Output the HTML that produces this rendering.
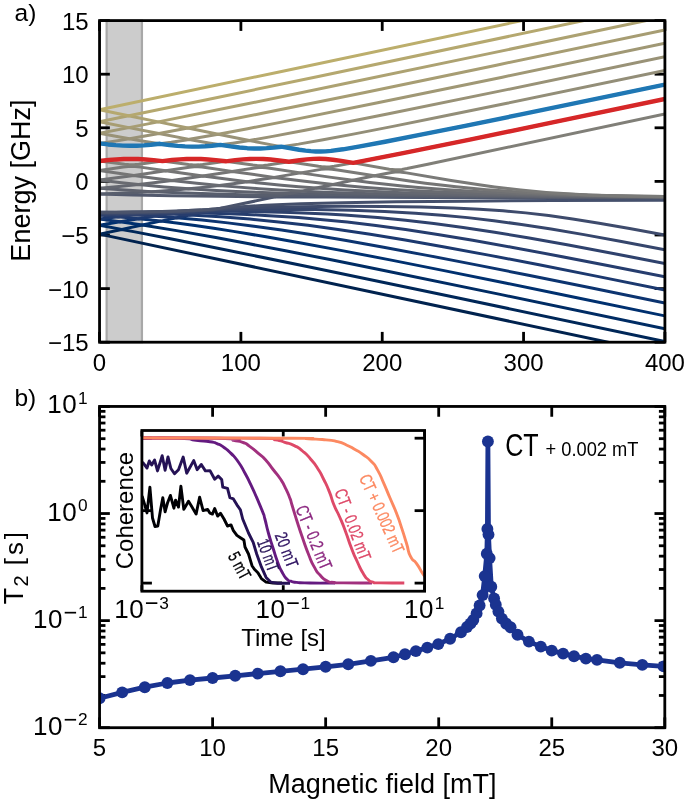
<!DOCTYPE html>
<html><head><meta charset="utf-8"><style>
html,body{margin:0;padding:0;background:#fff;}
svg{display:block;will-change:transform;}
text{font-family:"Liberation Sans",sans-serif;fill:#000;}
</style></head><body>
<svg width="685" height="803" viewBox="0 0 685 803">
<rect width="685" height="803" fill="#fff"/>
<defs>
<clipPath id="ca"><rect x="99.55" y="20.6" width="565.35" height="321.6"/></clipPath>
<clipPath id="cb"><rect x="99.55" y="406.45" width="565.25" height="321.25"/></clipPath>
<clipPath id="ci"><rect x="141.9" y="430.5" width="282.7" height="160.7"/></clipPath>
</defs>
<rect x="106.62" y="20.6" width="35.33" height="321.6" fill="#cccccc" stroke="#a8a8a8" stroke-width="2.2"/>
<line x1="99.55" y1="342.2" x2="99.55" y2="331.9" stroke="#000" stroke-width="2.8" />
<line x1="99.55" y1="20.6" x2="99.55" y2="30.9" stroke="#000" stroke-width="2.8" />
<line x1="240.89" y1="342.2" x2="240.89" y2="331.9" stroke="#000" stroke-width="2.8" />
<line x1="240.89" y1="20.6" x2="240.89" y2="30.9" stroke="#000" stroke-width="2.8" />
<line x1="382.23" y1="342.2" x2="382.23" y2="331.9" stroke="#000" stroke-width="2.8" />
<line x1="382.23" y1="20.6" x2="382.23" y2="30.9" stroke="#000" stroke-width="2.8" />
<line x1="523.56" y1="342.2" x2="523.56" y2="331.9" stroke="#000" stroke-width="2.8" />
<line x1="523.56" y1="20.6" x2="523.56" y2="30.9" stroke="#000" stroke-width="2.8" />
<line x1="664.9" y1="342.2" x2="664.9" y2="331.9" stroke="#000" stroke-width="2.8" />
<line x1="664.9" y1="20.6" x2="664.9" y2="30.9" stroke="#000" stroke-width="2.8" />
<line x1="99.55" y1="20.6" x2="109.85" y2="20.6" stroke="#000" stroke-width="2.8" />
<line x1="664.9" y1="20.6" x2="654.6" y2="20.6" stroke="#000" stroke-width="2.8" />
<line x1="99.55" y1="74.2" x2="109.85" y2="74.2" stroke="#000" stroke-width="2.8" />
<line x1="664.9" y1="74.2" x2="654.6" y2="74.2" stroke="#000" stroke-width="2.8" />
<line x1="99.55" y1="127.8" x2="109.85" y2="127.8" stroke="#000" stroke-width="2.8" />
<line x1="664.9" y1="127.8" x2="654.6" y2="127.8" stroke="#000" stroke-width="2.8" />
<line x1="99.55" y1="181.4" x2="109.85" y2="181.4" stroke="#000" stroke-width="2.8" />
<line x1="664.9" y1="181.4" x2="654.6" y2="181.4" stroke="#000" stroke-width="2.8" />
<line x1="99.55" y1="235" x2="109.85" y2="235" stroke="#000" stroke-width="2.8" />
<line x1="664.9" y1="235" x2="654.6" y2="235" stroke="#000" stroke-width="2.8" />
<line x1="99.55" y1="288.6" x2="109.85" y2="288.6" stroke="#000" stroke-width="2.8" />
<line x1="664.9" y1="288.6" x2="654.6" y2="288.6" stroke="#000" stroke-width="2.8" />
<line x1="99.55" y1="342.2" x2="109.85" y2="342.2" stroke="#000" stroke-width="2.8" />
<line x1="664.9" y1="342.2" x2="654.6" y2="342.2" stroke="#000" stroke-width="2.8" />
<g clip-path="url(#ca)">
<path d="M99.55 234.11 L635.93 348.14" fill="none" stroke="#00224e" stroke-width="3.0" stroke-linejoin="round" stroke-linecap="butt" />
<path d="M99.55 234.11 L121.81 229.41 L134.88 231.87 L169.16 238.5 L209.09 246.45 L311.91 267.47 L457.13 297.77 L664.9 341.54" fill="none" stroke="#002758" stroke-width="3.0" stroke-linejoin="round" stroke-linecap="butt" />
<path d="M99.55 225.33 L121.81 229.38 L142.3 225.03 L176.58 230.61 L215.8 237.56 L249.01 243.76 L286.82 251.06 L329.93 259.58 L379.04 269.48 L501.3 294.6 L664.9 328.75" fill="none" stroke="#002c64" stroke-width="3.0" stroke-linejoin="round" stroke-linecap="butt" />
<path d="M99.55 225.33 L120.04 221.74 L142.3 225.02 L160.68 221.12 L176.58 223.07 L194.95 225.56 L213.68 228.29 L233.47 231.37 L265.97 236.79 L302.37 243.25 L343.36 250.89 L390 259.9 L444.06 270.62 L506.6 283.27 L579.39 298.19 L664.9 315.9" fill="none" stroke="#00306f" stroke-width="3.0" stroke-linejoin="round" stroke-linecap="butt" />
<path d="M99.55 218.95 L120.04 221.71 L138.77 218.65 L160.68 221.1 L176.58 217.75 L202.02 220.08 L227.81 222.88 L253.96 226.17 L281.52 230.07 L312.26 234.85 L346.18 240.56 L383.64 247.24 L425.69 255.1 L473.74 264.39 L528.51 275.24 L591.76 288.02 L664.9 302.99" fill="none" stroke="#0c3470" stroke-width="3.0" stroke-linejoin="round" stroke-linecap="butt" />
<path d="M99.55 218.95 L118.28 216.69 L138.77 218.65 L155.38 216.13 L176.58 217.74 L189.65 215.02 L220.39 216.84 L249.72 219.12 L278.7 221.94 L308.02 225.35 L338.06 229.39 L370.21 234.24 L405.19 240 L444.41 246.91 L488.58 255.1 L539.11 264.83 L597.41 276.36 L664.9 289.99" fill="none" stroke="#1c396f" stroke-width="3.0" stroke-linejoin="round" stroke-linecap="butt" />
<path d="M99.55 215.13 L118.28 216.68 L135.24 214.88 L155.02 216.11 L169.51 214.1 L189.3 215 L199.55 212.87 L210.5 213.15 L229.23 213.75 L247.25 214.49 L264.91 215.38 L281.88 216.4 L298.48 217.57 L314.74 218.9 L330.99 220.4 L347.24 222.08 L375.86 225.48 L405.55 229.54 L437.7 234.45 L472.68 240.28 L511.55 247.18 L555.72 255.42 L606.24 265.19 L664.9 276.84" fill="none" stroke="#263d6e" stroke-width="3.0" stroke-linejoin="round" stroke-linecap="butt" />
<path d="M99.55 215.13 L116.86 213.92 L135.24 214.86 L150.78 213.44 L169.51 214.08 L181.53 212.53 L199.55 212.86 L207.32 211.24 L230.29 211.35 L270.92 212.01 L290.36 212.55 L309.08 213.25 L327.1 214.1 L344.42 215.09 L361.02 216.22 L377.63 217.54 L405.55 220.21 L433.81 223.48 L463.14 227.45 L494.59 232.23 L529.22 238 L568.44 245 L613.31 253.42 L664.9 263.46" fill="none" stroke="#2f426d" stroke-width="3.0" stroke-linejoin="round" stroke-linecap="butt" />
<path d="M99.55 213.17 L116.86 213.89 L133.12 212.95 L150.78 213.41 L164.57 212.29 L181.53 212.5 L192.13 211.27 L206.97 211.24 L213.33 210.01 L244.07 209.54 L276.22 209.38 L315.09 209.62 L351.48 210.33 L384.7 211.51 L415.44 213.17 L441.94 215.15 L467.73 217.62 L493.88 220.68 L521.44 224.46 L551.12 229.06 L583.98 234.63 L621.44 241.42 L664.9 249.69" fill="none" stroke="#36466c" stroke-width="3.0" stroke-linejoin="round" stroke-linecap="butt" />
<path d="M99.55 213.17 L114.39 212.73 L133.12 212.94 L148.31 212.29 L164.57 212.29 L177.29 211.48 L192.13 211.26 L201.31 210.38 L212.97 210.01 L217.92 209.13 L227.11 208.65 L261.38 207.52 L299.19 206.74 L341.59 206.35 L383.29 206.43 L420.74 206.95 L453.6 207.92 L479.39 209.15 L503.07 210.79 L525.68 212.88 L548.65 215.57 L572.68 218.93 L599.18 223.15 L629.57 228.48 L664.9 235.09" fill="none" stroke="#3e4b6c" stroke-width="3.0" stroke-linejoin="round" stroke-linecap="butt" />
<path d="M99.55 212.28 L115.8 212.4 L131.7 212.08 L146.19 212.01 L162.09 211.49 L177.29 211.18 L188.24 210.58 L200.96 210.12 L208.38 209.47 L216.51 209.03 L220.75 208.34 L233.82 207.29 L249.01 206.25 L265.27 205.32 L300.6 203.85 L342.65 202.72 L396.36 201.82 L464.55 201.13 L551.83 200.61 L664.9 200.21" fill="none" stroke="#45506c" stroke-width="3.0" stroke-linejoin="round" stroke-linecap="butt" />
<path d="M99.55 212.28 L131.7 212.08 L162.09 211.48 L188.24 210.58 L208.38 209.47 L220.75 208.32 L275.16 196.81 L430.28 197.54 L664.9 198.02" fill="none" stroke="#4b546c" stroke-width="3.0" stroke-linejoin="round" stroke-linecap="butt" />
<path d="M99.55 194.05 L132.76 194.97 L171.99 195.72 L218.63 196.32 L274.81 196.81 L281.88 195.41 L347.95 196.25 L430.28 196.9 L533.46 197.39 L664.9 197.78" fill="none" stroke="#52596d" stroke-width="3.0" stroke-linejoin="round" stroke-linecap="butt" />
<path d="M99.55 194.05 L126.76 192.99 L152.2 191.65 L179.41 192.84 L209.44 193.84 L243.01 194.68 L281.52 195.4 L290.71 193.55 L320.74 194.34 L354.31 195.02 L433.46 196.12 L534.16 196.93 L664.9 197.52" fill="none" stroke="#585e6d" stroke-width="3.0" stroke-linejoin="round" stroke-linecap="butt" />
<path d="M99.55 188.26 L124.99 190.1 L151.84 191.63 L169.16 190.46 L188.95 188.81 L211.91 190.27 L235.94 191.51 L262.09 192.6 L290.36 193.54 L302.02 191.13 L331.34 192.4 L363.5 193.48 L399.19 194.4 L439.47 195.19 L484.69 195.84 L536.64 196.4 L664.9 197.25" fill="none" stroke="#5e626e" stroke-width="3.0" stroke-linejoin="round" stroke-linecap="butt" />
<path d="M99.55 188.26 L118.98 186.55 L138.42 184.55 L164.21 186.91 L188.59 188.79 L202.73 187.38 L219.33 185.46 L238.77 187.13 L258.91 188.63 L279.76 189.95 L301.66 191.11 L316.15 188.09 L344.77 189.97 L375.16 191.55 L408.37 192.89 L445.47 194.02 L483.99 194.89 L527.1 195.63 L581.51 196.3 L645.82 196.86 L664.9 197.23" fill="none" stroke="#646770" stroke-width="3.0" stroke-linejoin="round" stroke-linecap="butt" />
<path d="M99.55 180.09 L119.34 182.46 L138.42 184.52 L153.61 182.8 L171.99 180.45 L196.72 183.23 L219.33 185.45 L233.11 183.65 L247.25 181.64 L264.56 183.53 L281.52 185.2 L298.84 186.73 L316.15 188.08 L333.46 184.47 L362.79 187.17 L393.18 189.44 L425.33 191.3 L460.67 192.86 L497.77 194.06 L539.46 195.06 L579.74 195.76 L625.68 196.36 L645.82 196.86 L664.9 196.99" fill="none" stroke="#696b71" stroke-width="3.0" stroke-linejoin="round" stroke-linecap="butt" />
<path d="M99.55 180.09 L133.82 175.47 L153.96 178.17 L171.99 180.43 L203.08 176.07 L226.05 179.09 L247.25 181.64 L274.1 177.42 L304.84 181.31 L333.11 184.43 L352.9 180.32 L369.86 182.43 L386.11 184.3 L402.01 185.96 L418.27 187.47 L434.52 188.82 L451.13 190.02 L486.46 192.07 L520.74 193.54 L558.9 194.72 L605.18 195.76 L625.68 196.36 L664.9 196.76" fill="none" stroke="#6f7073" stroke-width="3.0" stroke-linejoin="round" stroke-linecap="butt" />
<path d="M99.55 170.48 L133.82 175.43 L165.63 170.71 L202.73 176.02 L232.41 171.45 L274.1 177.39 L300.6 172.86 L329.58 177.13 L352.9 180.29 L374.45 175.81 L409.43 181.01 L425.33 183.14 L440.88 185.06 L456.07 186.77 L471.27 188.29 L486.46 189.64 L502.01 190.84 L522.15 192.15 L543.7 193.29 L602 195.56 L618.61 195.94 L664.9 196.62" fill="none" stroke="#757575" stroke-width="3.0" stroke-linejoin="round" stroke-linecap="butt" />
<path d="M99.55 170.48 L123.22 167.06 L128.17 166.52 L131.7 166.37 L135.24 166.53 L140.54 167.11 L165.63 170.7 L189.3 167.2 L194.25 166.74 L198.13 166.75 L202.02 167.09 L207.32 167.76 L232.05 171.39 L254.67 167.92 L258.91 167.49 L262.44 167.46 L265.97 167.74 L271.63 168.47 L300.6 172.86 L321.1 169.38 L325.34 168.92 L328.52 168.89 L332.05 169.19 L337.7 169.96 L374.45 175.77 L391.41 172.43 L395.3 171.93 L398.48 171.87 L401.66 172.15 L406.61 172.86 L451.13 180.42 L480.81 185.01 L494.59 186.92 L507.66 188.56 L520.74 190.04 L533.46 191.3 L546.18 192.4 L559.25 193.36 L587.52 194.96 L625.68 195.93 L664.9 196.58" fill="none" stroke="#7a7a78" stroke-width="3.0" stroke-linejoin="round" stroke-linecap="butt" />
<path d="M99.55 161.03 L124.64 164.2 L128.52 164.57 L131.7 164.69 L134.88 164.55 L138.77 164.17 L162.45 161.11 L188.59 164.46 L192.48 164.85 L195.66 164.99 L198.84 164.87 L202.73 164.47 L225.69 161.32 L252.9 165.06 L257.14 165.53 L260.32 165.69 L263.5 165.56 L267.74 165.08 L288.94 161.8 L318.62 166.31 L323.22 166.87 L326.4 167.05 L329.58 166.9 L334.17 166.3 L353.25 162.86 L389.29 169.17 L394.95 169.84 L398.83 169.79 L402.01 169.4 L406.96 168.52 L427.81 164.24 L664.9 113.91" fill="none" stroke="#807f78" stroke-width="3.0" stroke-linejoin="round" stroke-linecap="butt" />
<path d="M99.55 161.03 L108.74 160.06 L116.51 159.43 L123.93 159.04 L131 158.92 L138.06 159.06 L145.48 159.45 L153.61 160.13 L162.45 161.08 L171.99 160.06 L179.76 159.4 L186.83 159.03 L193.89 158.91 L200.96 159.07 L208.03 159.48 L215.8 160.18 L225.69 161.31 L235.23 160.14 L243.01 159.41 L250.07 158.98 L256.43 158.87 L263.15 159.04 L270.57 159.56 L279.05 160.46 L288.94 161.78 L299.54 160.26 L306.96 159.38 L313.32 158.89 L319.33 158.76 L325.69 159.02 L332.76 159.71 L341.24 160.88 L353.25 162.84 L403.07 153.08 L469.85 139.54 L555.01 121.93 L664.9 98.96" fill="none" stroke="#878478" stroke-width="3.0" stroke-linejoin="round" stroke-linecap="butt" />
<path d="M99.55 143.43 L108.03 144.44 L115.8 145.16 L122.87 145.59 L129.94 145.76 L136.65 145.68 L143.72 145.34 L150.78 144.77 L159.97 143.81 L169.51 145.06 L177.64 145.9 L185.06 146.42 L192.13 146.64 L198.49 146.59 L205.2 146.29 L211.91 145.76 L220.39 144.88 L230.64 146.41 L239.47 147.5 L247.25 148.18 L254.31 148.48 L260.32 148.46 L266.68 148.17 L273.4 147.6 L281.17 146.7 L299.19 149.74 L305.55 150.61 L310.85 151.17 L315.8 151.48 L320.74 151.54 L325.69 151.35 L330.99 150.9 L343 149.3 L359.96 146.43 L385.05 141.74 L419.68 134.96 L465.26 125.81 L521.09 114.4 L664.9 84.57" fill="none" stroke="#8d8878" stroke-width="3.0" stroke-linejoin="round" stroke-linecap="butt" />
<path d="M99.55 143.43 L112.62 141.57 L129.23 138.88 L148.31 142.04 L159.62 143.76 L171.28 142.23 L189.3 139.42 L208.73 142.92 L220.39 144.84 L232.76 143.15 L249.37 140.53 L273.04 145.14 L281.52 146.65 L298.48 144.12 L321.8 140.05 L353.25 134.14 L394.24 126.12 L445.47 115.84 L506.96 103.3 L664.9 70.57" fill="none" stroke="#938e78" stroke-width="3.0" stroke-linejoin="round" stroke-linecap="butt" />
<path d="M99.55 133.31 L121.1 137.33 L129.58 138.78 L158.91 133.56 L189.3 139.35 L218.27 134.25 L249.37 140.48 L272.69 136.38 L303.78 130.55 L342.3 123.04 L388.59 113.81 L506.96 89.64 L664.9 56.83" fill="none" stroke="#999277" stroke-width="3.0" stroke-linejoin="round" stroke-linecap="butt" />
<path d="M99.55 133.31 L128.88 127.65 L158.91 133.54 L187.89 128.04 L218.27 134.25 L247.6 128.73 L284 121.64 L377.63 102.83 L502.36 77.18 L664.9 43.29" fill="none" stroke="#a09875" stroke-width="3.0" stroke-linejoin="round" stroke-linecap="butt" />
<path d="M99.55 121.69 L128.88 127.6 L158.21 121.89 L187.89 128.02 L188.24 127.97 L263.5 113.09 L364.91 92.42 L496.36 65.18 L664.9 29.91" fill="none" stroke="#a79d73" stroke-width="3.0" stroke-linejoin="round" stroke-linecap="butt" />
<path d="M99.55 121.69 L128.52 115.78 L158.21 121.85 L241.24 105.04 L350.07 82.59 L488.93 53.61 L664.9 16.64" fill="none" stroke="#ada272" stroke-width="3.0" stroke-linejoin="round" stroke-linecap="butt" />
<path d="M99.55 109.68 L128.52 115.72 L128.88 115.71 L212.62 98.45 L318.27 76.43 L611.9 14.66" fill="none" stroke="#b5a86f" stroke-width="3.0" stroke-linejoin="round" stroke-linecap="butt" />
<path d="M99.55 109.68 L281.52 71.46 L550.42 14.62" fill="none" stroke="#bcae6c" stroke-width="3.0" stroke-linejoin="round" stroke-linecap="butt" />
<path d="M99.55 143.43 L108.03 144.44 L115.8 145.16 L122.87 145.59 L129.94 145.76 L136.65 145.68 L143.72 145.34 L150.78 144.77 L159.97 143.81 L169.51 145.06 L177.64 145.9 L185.06 146.42 L192.13 146.64 L198.49 146.59 L205.2 146.29 L211.91 145.76 L220.39 144.88 L230.64 146.41 L239.47 147.5 L247.25 148.18 L254.31 148.48 L260.32 148.46 L266.68 148.17 L273.4 147.6 L281.17 146.7 L299.19 149.74 L305.55 150.61 L310.85 151.17 L315.8 151.48 L320.74 151.54 L325.69 151.35 L330.99 150.9 L343 149.3 L359.96 146.43 L385.05 141.74 L419.68 134.96 L465.26 125.81 L521.09 114.4 L664.9 84.57" fill="none" stroke="#1f77b4" stroke-width="4.4" stroke-linejoin="round" stroke-linecap="butt" />
<path d="M99.55 161.03 L108.74 160.06 L116.51 159.43 L123.93 159.04 L131 158.92 L138.06 159.06 L145.48 159.45 L153.61 160.13 L162.45 161.08 L171.99 160.06 L179.76 159.4 L186.83 159.03 L193.89 158.91 L200.96 159.07 L208.03 159.48 L215.8 160.18 L225.69 161.31 L235.23 160.14 L243.01 159.41 L250.07 158.98 L256.43 158.87 L263.15 159.04 L270.57 159.56 L279.05 160.46 L288.94 161.78 L299.54 160.26 L306.96 159.38 L313.32 158.89 L319.33 158.76 L325.69 159.02 L332.76 159.71 L341.24 160.88 L353.25 162.84 L403.07 153.08 L469.85 139.54 L555.01 121.93 L664.9 98.96" fill="none" stroke="#d62728" stroke-width="4.4" stroke-linejoin="round" stroke-linecap="butt" />
</g>
<rect x="99.55" y="20.6" width="565.35" height="321.6" fill="none" stroke="#000" stroke-width="2.8"/>
<text x="99.55" y="370.8" font-size="24" text-anchor="middle" font-family="Liberation Sans" >0</text>
<text x="240.89" y="370.8" font-size="24" text-anchor="middle" font-family="Liberation Sans" >100</text>
<text x="382.23" y="370.8" font-size="24" text-anchor="middle" font-family="Liberation Sans" >200</text>
<text x="523.56" y="370.8" font-size="24" text-anchor="middle" font-family="Liberation Sans" >300</text>
<text x="664.9" y="370.8" font-size="24" text-anchor="middle" font-family="Liberation Sans" >400</text>
<text x="88.6" y="29.6" font-size="24" text-anchor="end" font-family="Liberation Sans" >15</text>
<text x="88.6" y="83.2" font-size="24" text-anchor="end" font-family="Liberation Sans" >10</text>
<text x="88.6" y="136.8" font-size="24" text-anchor="end" font-family="Liberation Sans" >5</text>
<text x="88.6" y="190.4" font-size="24" text-anchor="end" font-family="Liberation Sans" >0</text>
<text x="88.6" y="244" font-size="24" text-anchor="end" font-family="Liberation Sans" >&#8722;5</text>
<text x="88.6" y="297.6" font-size="24" text-anchor="end" font-family="Liberation Sans" >&#8722;10</text>
<text x="88.6" y="351.2" font-size="24" text-anchor="end" font-family="Liberation Sans" >&#8722;15</text>
<text x="14.6" y="20.7" font-size="24.5" text-anchor="start" font-family="Liberation Sans" >a)</text>
<text transform="translate(29.6,180.6) rotate(-90)" font-size="27" text-anchor="middle">Energy [GHz]</text>
<line x1="99.55" y1="727.7" x2="99.55" y2="717.4" stroke="#000" stroke-width="2.8" />
<line x1="99.55" y1="406.45" x2="99.55" y2="416.75" stroke="#000" stroke-width="2.8" />
<line x1="212.6" y1="727.7" x2="212.6" y2="717.4" stroke="#000" stroke-width="2.8" />
<line x1="212.6" y1="406.45" x2="212.6" y2="416.75" stroke="#000" stroke-width="2.8" />
<line x1="325.65" y1="727.7" x2="325.65" y2="717.4" stroke="#000" stroke-width="2.8" />
<line x1="325.65" y1="406.45" x2="325.65" y2="416.75" stroke="#000" stroke-width="2.8" />
<line x1="438.7" y1="727.7" x2="438.7" y2="717.4" stroke="#000" stroke-width="2.8" />
<line x1="438.7" y1="406.45" x2="438.7" y2="416.75" stroke="#000" stroke-width="2.8" />
<line x1="551.75" y1="727.7" x2="551.75" y2="717.4" stroke="#000" stroke-width="2.8" />
<line x1="551.75" y1="406.45" x2="551.75" y2="416.75" stroke="#000" stroke-width="2.8" />
<line x1="664.8" y1="727.7" x2="664.8" y2="717.4" stroke="#000" stroke-width="2.8" />
<line x1="664.8" y1="406.45" x2="664.8" y2="416.75" stroke="#000" stroke-width="2.8" />
<line x1="99.55" y1="406.45" x2="109.85" y2="406.45" stroke="#000" stroke-width="2.8" />
<line x1="664.8" y1="406.45" x2="654.5" y2="406.45" stroke="#000" stroke-width="2.8" />
<line x1="99.55" y1="481.3" x2="105.45" y2="481.3" stroke="#000" stroke-width="2.8" />
<line x1="664.8" y1="481.3" x2="658.9" y2="481.3" stroke="#000" stroke-width="2.8" />
<line x1="99.55" y1="462.44" x2="105.45" y2="462.44" stroke="#000" stroke-width="2.8" />
<line x1="664.8" y1="462.44" x2="658.9" y2="462.44" stroke="#000" stroke-width="2.8" />
<line x1="99.55" y1="449.06" x2="105.45" y2="449.06" stroke="#000" stroke-width="2.8" />
<line x1="664.8" y1="449.06" x2="658.9" y2="449.06" stroke="#000" stroke-width="2.8" />
<line x1="99.55" y1="438.69" x2="105.45" y2="438.69" stroke="#000" stroke-width="2.8" />
<line x1="664.8" y1="438.69" x2="658.9" y2="438.69" stroke="#000" stroke-width="2.8" />
<line x1="99.55" y1="430.21" x2="105.45" y2="430.21" stroke="#000" stroke-width="2.8" />
<line x1="664.8" y1="430.21" x2="658.9" y2="430.21" stroke="#000" stroke-width="2.8" />
<line x1="99.55" y1="423.04" x2="105.45" y2="423.04" stroke="#000" stroke-width="2.8" />
<line x1="664.8" y1="423.04" x2="658.9" y2="423.04" stroke="#000" stroke-width="2.8" />
<line x1="99.55" y1="416.83" x2="105.45" y2="416.83" stroke="#000" stroke-width="2.8" />
<line x1="664.8" y1="416.83" x2="658.9" y2="416.83" stroke="#000" stroke-width="2.8" />
<line x1="99.55" y1="411.35" x2="105.45" y2="411.35" stroke="#000" stroke-width="2.8" />
<line x1="664.8" y1="411.35" x2="658.9" y2="411.35" stroke="#000" stroke-width="2.8" />
<line x1="99.55" y1="513.53" x2="109.85" y2="513.53" stroke="#000" stroke-width="2.8" />
<line x1="664.8" y1="513.53" x2="654.5" y2="513.53" stroke="#000" stroke-width="2.8" />
<line x1="99.55" y1="588.38" x2="105.45" y2="588.38" stroke="#000" stroke-width="2.8" />
<line x1="664.8" y1="588.38" x2="658.9" y2="588.38" stroke="#000" stroke-width="2.8" />
<line x1="99.55" y1="569.52" x2="105.45" y2="569.52" stroke="#000" stroke-width="2.8" />
<line x1="664.8" y1="569.52" x2="658.9" y2="569.52" stroke="#000" stroke-width="2.8" />
<line x1="99.55" y1="556.15" x2="105.45" y2="556.15" stroke="#000" stroke-width="2.8" />
<line x1="664.8" y1="556.15" x2="658.9" y2="556.15" stroke="#000" stroke-width="2.8" />
<line x1="99.55" y1="545.77" x2="105.45" y2="545.77" stroke="#000" stroke-width="2.8" />
<line x1="664.8" y1="545.77" x2="658.9" y2="545.77" stroke="#000" stroke-width="2.8" />
<line x1="99.55" y1="537.29" x2="105.45" y2="537.29" stroke="#000" stroke-width="2.8" />
<line x1="664.8" y1="537.29" x2="658.9" y2="537.29" stroke="#000" stroke-width="2.8" />
<line x1="99.55" y1="530.12" x2="105.45" y2="530.12" stroke="#000" stroke-width="2.8" />
<line x1="664.8" y1="530.12" x2="658.9" y2="530.12" stroke="#000" stroke-width="2.8" />
<line x1="99.55" y1="523.91" x2="105.45" y2="523.91" stroke="#000" stroke-width="2.8" />
<line x1="664.8" y1="523.91" x2="658.9" y2="523.91" stroke="#000" stroke-width="2.8" />
<line x1="99.55" y1="518.43" x2="105.45" y2="518.43" stroke="#000" stroke-width="2.8" />
<line x1="664.8" y1="518.43" x2="658.9" y2="518.43" stroke="#000" stroke-width="2.8" />
<line x1="99.55" y1="620.62" x2="109.85" y2="620.62" stroke="#000" stroke-width="2.8" />
<line x1="664.8" y1="620.62" x2="654.5" y2="620.62" stroke="#000" stroke-width="2.8" />
<line x1="99.55" y1="695.46" x2="105.45" y2="695.46" stroke="#000" stroke-width="2.8" />
<line x1="664.8" y1="695.46" x2="658.9" y2="695.46" stroke="#000" stroke-width="2.8" />
<line x1="99.55" y1="676.61" x2="105.45" y2="676.61" stroke="#000" stroke-width="2.8" />
<line x1="664.8" y1="676.61" x2="658.9" y2="676.61" stroke="#000" stroke-width="2.8" />
<line x1="99.55" y1="663.23" x2="105.45" y2="663.23" stroke="#000" stroke-width="2.8" />
<line x1="664.8" y1="663.23" x2="658.9" y2="663.23" stroke="#000" stroke-width="2.8" />
<line x1="99.55" y1="652.85" x2="105.45" y2="652.85" stroke="#000" stroke-width="2.8" />
<line x1="664.8" y1="652.85" x2="658.9" y2="652.85" stroke="#000" stroke-width="2.8" />
<line x1="99.55" y1="644.37" x2="105.45" y2="644.37" stroke="#000" stroke-width="2.8" />
<line x1="664.8" y1="644.37" x2="658.9" y2="644.37" stroke="#000" stroke-width="2.8" />
<line x1="99.55" y1="637.2" x2="105.45" y2="637.2" stroke="#000" stroke-width="2.8" />
<line x1="664.8" y1="637.2" x2="658.9" y2="637.2" stroke="#000" stroke-width="2.8" />
<line x1="99.55" y1="630.99" x2="105.45" y2="630.99" stroke="#000" stroke-width="2.8" />
<line x1="664.8" y1="630.99" x2="658.9" y2="630.99" stroke="#000" stroke-width="2.8" />
<line x1="99.55" y1="625.52" x2="105.45" y2="625.52" stroke="#000" stroke-width="2.8" />
<line x1="664.8" y1="625.52" x2="658.9" y2="625.52" stroke="#000" stroke-width="2.8" />
<line x1="99.55" y1="727.7" x2="109.85" y2="727.7" stroke="#000" stroke-width="2.8" />
<line x1="664.8" y1="727.7" x2="654.5" y2="727.7" stroke="#000" stroke-width="2.8" />
<g clip-path="url(#cb)">
<path d="M99.55 698.3 L122.16 692.4 L144.77 687.2 L167.38 683 L189.99 680.1 L212.6 678 L235.21 675.8 L257.82 673.6 L280.43 671.3 L303.04 669.2 L325.65 666.8 L348.26 664.3 L370.87 660.9 L393.48 657.3 L405 654.2 L415.9 651.1 L427.3 647.6 L438.3 644.1 L450.1 638.8 L461 632.3 L467 627 L470.5 623.5 L473.3 620 L476.6 613.4 L479.6 605.5 L482.6 595.1 L484.7 576.1 L486.8 553.7 L487.4 529 L487.9 441.5 L488.5 534.6 L489.6 558.1 L491.3 586.7 L494.1 598.5 L495.8 604.7 L498.4 611.6 L501.9 618.6 L506.2 623.8 L510.6 627.3 L517.5 634.8 L528.9 641.6 L540.8 646.6 L551.7 650.6 L563.1 653.6 L574 656.2 L585.9 658.6 L597 659.9 L619.8 662.8 L642.3 664.9 L663.6 666.4" fill="none" stroke="#1a3390" stroke-width="4.8" stroke-linejoin="round" stroke-linecap="butt" />
<path d="M485 596 L487.6 580 L488.3 560 L488.1 540 L487.9 530" fill="none" stroke="#1a3390" stroke-width="5.2" stroke-linejoin="round" stroke-linecap="butt" />
<circle cx="99.55" cy="698.3" r="5.95" fill="#1a3390"/>
<circle cx="122.16" cy="692.4" r="5.95" fill="#1a3390"/>
<circle cx="144.77" cy="687.2" r="5.95" fill="#1a3390"/>
<circle cx="167.38" cy="683" r="5.95" fill="#1a3390"/>
<circle cx="189.99" cy="680.1" r="5.95" fill="#1a3390"/>
<circle cx="212.6" cy="678" r="5.95" fill="#1a3390"/>
<circle cx="235.21" cy="675.8" r="5.95" fill="#1a3390"/>
<circle cx="257.82" cy="673.6" r="5.95" fill="#1a3390"/>
<circle cx="280.43" cy="671.3" r="5.95" fill="#1a3390"/>
<circle cx="303.04" cy="669.2" r="5.95" fill="#1a3390"/>
<circle cx="325.65" cy="666.8" r="5.95" fill="#1a3390"/>
<circle cx="348.26" cy="664.3" r="5.95" fill="#1a3390"/>
<circle cx="370.87" cy="660.9" r="5.95" fill="#1a3390"/>
<circle cx="393.48" cy="657.3" r="5.95" fill="#1a3390"/>
<circle cx="405" cy="654.2" r="5.95" fill="#1a3390"/>
<circle cx="415.9" cy="651.1" r="5.95" fill="#1a3390"/>
<circle cx="427.3" cy="647.6" r="5.95" fill="#1a3390"/>
<circle cx="438.3" cy="644.1" r="5.95" fill="#1a3390"/>
<circle cx="450.1" cy="638.8" r="5.95" fill="#1a3390"/>
<circle cx="461" cy="632.3" r="5.95" fill="#1a3390"/>
<circle cx="467" cy="627" r="5.95" fill="#1a3390"/>
<circle cx="470.5" cy="623.5" r="5.95" fill="#1a3390"/>
<circle cx="473.3" cy="620" r="5.95" fill="#1a3390"/>
<circle cx="476.6" cy="613.4" r="5.95" fill="#1a3390"/>
<circle cx="479.6" cy="605.5" r="5.95" fill="#1a3390"/>
<circle cx="482.6" cy="595.1" r="5.95" fill="#1a3390"/>
<circle cx="484.7" cy="576.1" r="5.95" fill="#1a3390"/>
<circle cx="486.8" cy="553.7" r="5.95" fill="#1a3390"/>
<circle cx="487.4" cy="529" r="5.95" fill="#1a3390"/>
<circle cx="487.9" cy="441.5" r="5.95" fill="#1a3390"/>
<circle cx="488.5" cy="534.6" r="5.95" fill="#1a3390"/>
<circle cx="489.6" cy="558.1" r="5.95" fill="#1a3390"/>
<circle cx="491.3" cy="586.7" r="5.95" fill="#1a3390"/>
<circle cx="494.1" cy="598.5" r="5.95" fill="#1a3390"/>
<circle cx="495.8" cy="604.7" r="5.95" fill="#1a3390"/>
<circle cx="498.4" cy="611.6" r="5.95" fill="#1a3390"/>
<circle cx="501.9" cy="618.6" r="5.95" fill="#1a3390"/>
<circle cx="506.2" cy="623.8" r="5.95" fill="#1a3390"/>
<circle cx="510.6" cy="627.3" r="5.95" fill="#1a3390"/>
<circle cx="517.5" cy="634.8" r="5.95" fill="#1a3390"/>
<circle cx="528.9" cy="641.6" r="5.95" fill="#1a3390"/>
<circle cx="540.8" cy="646.6" r="5.95" fill="#1a3390"/>
<circle cx="551.7" cy="650.6" r="5.95" fill="#1a3390"/>
<circle cx="563.1" cy="653.6" r="5.95" fill="#1a3390"/>
<circle cx="574" cy="656.2" r="5.95" fill="#1a3390"/>
<circle cx="585.9" cy="658.6" r="5.95" fill="#1a3390"/>
<circle cx="597" cy="659.9" r="5.95" fill="#1a3390"/>
<circle cx="619.8" cy="662.8" r="5.95" fill="#1a3390"/>
<circle cx="642.3" cy="664.9" r="5.95" fill="#1a3390"/>
<circle cx="663.6" cy="666.4" r="5.95" fill="#1a3390"/>
</g>
<text x="505.2" y="456" font-size="31.5" textLength="33.5" lengthAdjust="spacingAndGlyphs">CT</text>
<text x="545.5" y="456" font-size="19.5" textLength="93" lengthAdjust="spacingAndGlyphs">+ 0.002 mT</text>
<rect x="99.55" y="406.45" width="565.25" height="321.25" fill="none" stroke="#000" stroke-width="2.8"/>
<text x="99.55" y="756.3" font-size="24" text-anchor="middle" font-family="Liberation Sans" >5</text>
<text x="212.6" y="756.3" font-size="24" text-anchor="middle" font-family="Liberation Sans" >10</text>
<text x="325.65" y="756.3" font-size="24" text-anchor="middle" font-family="Liberation Sans" >15</text>
<text x="438.7" y="756.3" font-size="24" text-anchor="middle" font-family="Liberation Sans" >20</text>
<text x="551.75" y="756.3" font-size="24" text-anchor="middle" font-family="Liberation Sans" >25</text>
<text x="664.8" y="756.3" font-size="24" text-anchor="middle" font-family="Liberation Sans" >30</text>
<text x="87.6" y="404.05" font-size="17.3" text-anchor="end">1</text>
<text x="77.4" y="413.45" font-size="26" letter-spacing="0.6" text-anchor="end">10</text>
<text x="87.6" y="511.13" font-size="17.3" text-anchor="end">0</text>
<text x="77.4" y="520.53" font-size="26" letter-spacing="0.6" text-anchor="end">10</text>
<text x="87.6" y="618.22" font-size="17.3" text-anchor="end">1</text>
<rect x="64.7" y="611.82" width="11.4" height="1.7" fill="#000"/>
<text x="63.1" y="627.62" font-size="26" letter-spacing="0.6" text-anchor="end">10</text>
<text x="87.6" y="725.3" font-size="17.3" text-anchor="end">2</text>
<rect x="64.7" y="718.9" width="11.4" height="1.7" fill="#000"/>
<text x="63.1" y="734.7" font-size="26" letter-spacing="0.6" text-anchor="end">10</text>
<text x="14.4" y="406" font-size="24.5" text-anchor="start" font-family="Liberation Sans" >b)</text>
<text x="382.4" y="793.4" font-size="27" text-anchor="middle" font-family="Liberation Sans" >Magnetic field [mT]</text>
<text transform="translate(22.7,604.3) rotate(-90)" font-size="27">T</text>
<text transform="translate(28.2,586.6) rotate(-90)" font-size="20">2</text>
<text transform="translate(22.7,565.2) rotate(-90)" font-size="26" letter-spacing="2.9">[s]</text>
<rect x="141.9" y="430.5" width="282.7" height="160.7" fill="#fff"/>
<line x1="141.9" y1="591.2" x2="141.9" y2="585.2" stroke="#000" stroke-width="2.8" />
<line x1="141.9" y1="430.5" x2="141.9" y2="436.5" stroke="#000" stroke-width="2.8" />
<line x1="283.25" y1="591.2" x2="283.25" y2="585.2" stroke="#000" stroke-width="2.8" />
<line x1="283.25" y1="430.5" x2="283.25" y2="436.5" stroke="#000" stroke-width="2.8" />
<line x1="424.6" y1="591.2" x2="424.6" y2="585.2" stroke="#000" stroke-width="2.8" />
<line x1="424.6" y1="430.5" x2="424.6" y2="436.5" stroke="#000" stroke-width="2.8" />
<line x1="141.9" y1="583.1" x2="151.9" y2="583.1" stroke="#000" stroke-width="2.8" />
<line x1="424.6" y1="583.1" x2="414.6" y2="583.1" stroke="#000" stroke-width="2.8" />
<line x1="141.9" y1="510.65" x2="151.9" y2="510.65" stroke="#000" stroke-width="2.8" />
<line x1="424.6" y1="510.65" x2="414.6" y2="510.65" stroke="#000" stroke-width="2.8" />
<line x1="141.9" y1="438.2" x2="151.9" y2="438.2" stroke="#000" stroke-width="2.8" />
<line x1="424.6" y1="438.2" x2="414.6" y2="438.2" stroke="#000" stroke-width="2.8" />
<g clip-path="url(#ci)">
<path d="M141.9 500.5 L142.3 496.6 L144.7 504.7 L147 512.9 L149.9 487.2 L152.5 518 L155 526.5 L157.8 526 L160.5 510 L162.8 497.7 L165.1 511.8 L167.5 503 L170.4 495.4 L173.9 508.2 L175.6 500.1 L178.5 507.1 L180.9 486.1 L183.8 509.4 L188.5 501.2 L192 507 L196.1 514.1 L199.6 497.2 L203.1 510.6 L207.7 509.4 L210 513.2 L212.4 514.1 L214.7 508.5 L217.6 516.1 L220.5 513.2 L224 519 L227.5 526 L231 524.9 L233.4 530.7 L236.9 535.4 L240.4 537.7 L243.9 540 L245 547 L248.5 554 L252 565.7 L254.4 569.2 L257.9 572.7 L261.4 578.6 L266.1 582.1 L273.1 583 L282 583" fill="none" stroke="#000004" stroke-width="2.9" stroke-linejoin="round" stroke-linecap="butt" />
<path d="M141.9 464 L142.9 462.7 L147 468 L149.3 461 L151.7 465 L154.6 460.1 L157.5 470.9 L162.2 455.7 L165.1 470.3 L168 456.9 L170.9 468.5 L174.5 473.8 L178.5 469.7 L183.2 457.1 L186.7 473.2 L193.7 460.6 L197.2 469.7 L201.3 464.5 L205.4 470.9 L210 470.6 L214.7 479.3 L218.2 476.1 L221.7 479.5 L222.8 487.2 L227.5 488.4 L229.9 497.7 L233.4 498.9 L236.9 504.8 L240.4 509.8 L242.7 519 L248.5 533 L253.2 542.4 L256.7 554 L261.4 566.9 L266.1 577.4 L270.7 582.1 L277.7 583.2 L290 583.2" fill="none" stroke="#251255" stroke-width="2.9" stroke-linejoin="round" stroke-linecap="butt" />
<path d="M141.9 438.2 C154.6 438.27 161.97 437.7 180 438.4 C198.03 439.1 186 439.17 196 440.3 C206 441.43 203 440.7 210 441.8 C217 442.9 212.33 441.7 217 443.6 C221.67 445.5 219.33 444.23 224 447.5 C228.67 450.77 226.33 448.73 231 453.4 C235.67 458.07 233.33 454.9 238 461.5 C242.67 468.1 240.7 465.4 245 473.2 C249.3 481 247 476.73 250.9 484.9 C254.8 493.07 252.8 488.73 256.7 497.7 C260.6 506.67 259.87 504.7 262.6 511.8 C265.33 518.9 262.97 511.93 264.9 519 C266.83 526.07 265.67 523.27 268.4 533 C271.13 542.73 270 538.47 273.1 548.2 C276.2 557.93 274.6 554.03 277.7 562.2 C280.8 570.37 279.27 567.03 282.4 572.7 C285.53 578.37 284.3 576.37 287.1 579.2 C289.9 582.03 287.6 580.13 290.8 581.2 C294 582.27 290.3 581.8 296.7 582.4 C303.1 583 297.23 582.8 310 583 C322.77 583.2 326.67 583 335 583" fill="none" stroke="#641a80" stroke-width="2.9" stroke-linejoin="round"/>
<path d="M141.9 438 C169.6 438.17 194.5 437.73 225 438.5 C255.5 439.27 227.5 439.03 233.4 440.3 C239.3 441.57 237.27 440.27 242.7 442.3 C248.13 444.33 244.27 442.53 249.7 446.4 C255.13 450.27 253.53 449.2 259 453.9 C264.47 458.6 261.4 455.3 266.1 460.5 C270.8 465.7 268.43 463.5 273.1 469.5 C277.77 475.5 276.13 472.6 280.1 478.5 C284.07 484.4 281.8 480.8 285 487.2 C288.2 493.6 287.37 491.77 289.7 497.7 C292.03 503.63 289.67 497.5 292 505 C294.33 512.5 293.2 509.3 296.7 520.2 C300.2 531.1 298.6 526.43 302.5 537.7 C306.4 548.97 304.5 544.27 308.4 554 C312.3 563.73 310.33 559.87 314.2 566.9 C318.07 573.93 315.73 570.43 320 575.1 C324.27 579.77 322.33 578.43 327 580.9 C331.67 583.37 328.53 581.83 334 582.5 C339.47 583.17 330.73 582.73 343.4 582.9 C356.07 583.07 362.47 582.97 372 583" fill="none" stroke="#a1307e" stroke-width="2.9" stroke-linejoin="round"/>
<path d="M141.9 437.9 C181.27 438.03 215.5 437.63 260 438.3 C304.5 438.97 267.17 438.57 275.4 439.9 C283.63 441.23 278.4 440.4 284.7 442.3 C291 444.2 288.37 442.7 294.3 445.6 C300.23 448.5 297.03 446.47 302.5 451 C307.97 455.53 305.63 453.37 310.7 459.2 C315.77 465.03 313.43 461.9 317.7 468.5 C321.97 475.1 319.6 471.2 323.5 479 C327.4 486.8 325.9 483.23 329.4 491.9 C332.9 500.57 330.5 496.47 334 505 C337.5 513.53 336 508.5 339.9 517.5 C343.8 526.5 341.8 521.67 345.7 532 C349.6 542.33 347.7 538.5 351.6 548.5 C355.5 558.5 353.53 553.67 357.4 562 C361.27 570.33 359.67 567.67 363.2 573.5 C366.73 579.33 364.73 576.6 368 579.5 C371.27 582.4 369 581.07 373 582.2 C377 583.33 369.57 582.63 380 582.9 C390.43 583.17 396.2 582.97 404.3 583" fill="none" stroke="#de4968" stroke-width="2.9" stroke-linejoin="round"/>
<path d="M141.9 437.9 C189.6 438 229.5 437.9 285 438.2 C340.5 438.5 294.77 438.23 308.4 438.8 C322.03 439.37 316.17 438.93 325.9 439.9 C335.63 440.87 330.6 439.93 337.6 441.7 C344.6 443.47 341.1 442.6 346.9 445.2 C352.7 447.8 349.63 446.4 355 449.5 C360.37 452.6 357.53 450.5 363 454.5 C368.47 458.5 366.53 456.3 371.4 461.5 C376.27 466.7 373.47 462.8 377.6 470.1 C381.73 477.4 379.7 474.17 383.8 483.4 C387.9 492.63 385.8 488.2 389.9 497.8 C394 507.4 392.33 502.6 396.1 512.2 C399.87 521.8 397.77 516.33 401.2 526.6 C404.63 536.87 403.3 533.07 406.4 543 C409.5 552.93 407.1 549.53 410.5 556.4 C413.9 563.27 412.5 557.8 416.6 563.6 C420.7 569.4 419.67 569 422.8 573.8 C425.93 578.6 424.93 576.6 426 578" fill="none" stroke="#fc8961" stroke-width="2.9" stroke-linejoin="round"/>
</g>
<text transform="translate(239.7,565.8) rotate(62)" font-size="17.5" text-anchor="middle" dy="0.35em" fill="#000004" style="fill:#000004" textLength="28.5" lengthAdjust="spacingAndGlyphs" stroke="#000004" stroke-width="0.3">5 mT</text>
<text transform="translate(268.3,555.3) rotate(69.7)" font-size="17.5" text-anchor="middle" dy="0.35em" fill="#251255" style="fill:#251255" textLength="33.5" lengthAdjust="spacingAndGlyphs" stroke="#251255" stroke-width="0.3">10 mT</text>
<text transform="translate(286.8,549.9) rotate(69)" font-size="17.5" text-anchor="middle" dy="0.35em" fill="#2d1160" style="fill:#2d1160" textLength="36.5" lengthAdjust="spacingAndGlyphs" stroke="#2d1160" stroke-width="0.3">20 mT</text>
<text transform="translate(314,537.5) rotate(67.6)" font-size="18" text-anchor="middle" dy="0.35em" fill="#8c2981" style="fill:#8c2981" textLength="68" lengthAdjust="spacingAndGlyphs" stroke="#8c2981" stroke-width="0.3">CT - 0.2 mT</text>
<text transform="translate(353,524.5) rotate(69.6)" font-size="17.5" text-anchor="middle" dy="0.35em" fill="#de4968" style="fill:#de4968" textLength="75" lengthAdjust="spacingAndGlyphs" stroke="#de4968" stroke-width="0.3">CT - 0.02 mT</text>
<text transform="translate(382.0,513.8) rotate(65.5)" font-size="17.5" text-anchor="middle" dy="0.35em" fill="#fc8961" style="fill:#fc8961" textLength="85" lengthAdjust="spacingAndGlyphs" stroke="#fc8961" stroke-width="0.3">CT + 0.002 mT</text>
<rect x="141.9" y="430.5" width="282.7" height="160.7" fill="none" stroke="#000" stroke-width="2.8"/>
<text x="168.85" y="608.7" font-size="17.3" text-anchor="end">3</text>
<rect x="145.95" y="602.3" width="11.4" height="1.7" fill="#000"/>
<text x="144.35" y="618.1" font-size="26" letter-spacing="0.6" text-anchor="end">10</text>
<text x="310.2" y="608.7" font-size="17.3" text-anchor="end">1</text>
<rect x="287.3" y="602.3" width="11.4" height="1.7" fill="#000"/>
<text x="285.7" y="618.1" font-size="26" letter-spacing="0.6" text-anchor="end">10</text>
<text x="444.4" y="608.7" font-size="17.3" text-anchor="end">1</text>
<text x="434.2" y="618.1" font-size="26" letter-spacing="0.6" text-anchor="end">10</text>
<text x="283.5" y="645.5" font-size="24" text-anchor="middle" font-family="Liberation Sans" >Time [s]</text>
<text transform="translate(132.5,510.6) rotate(-90)" font-size="24" text-anchor="middle">Coherence</text>
</svg></body></html>
